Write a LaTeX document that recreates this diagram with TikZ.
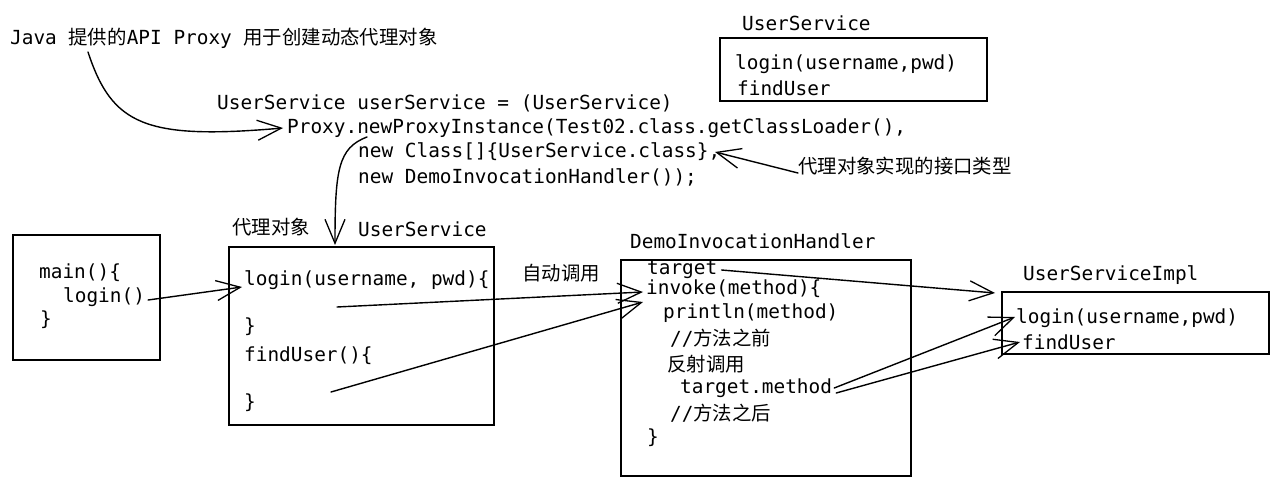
\documentclass[tikz,border=0pt]{standalone}
\usepackage{fontspec}
\usetikzlibrary{arrows.meta}
\newfontfamily\monof{DejaVu Sans Mono}
\newfontfamily\cjkf{Noto Sans CJK SC}
\newcommand\zh[1]{{\cjkf #1}}
\begin{document}
\begin{tikzpicture}[x=1pt,y=-1pt,
  txt/.style={font=\monof\fontsize{19.4pt}{24pt}\selectfont, inner sep=0pt, anchor=west},
  box/.style={draw, line width=1.6pt, anchor=north west, inner sep=0pt},
  arr/.style={line width=1.4pt, line cap=round, -{Straight Barb[length=24pt,width=20pt,line width=1.3pt]}},
  ]
\useasboundingbox (0,0) rectangle (1278,484);
\fill[white] (0,0) rectangle (1278,484);

% title and code
\node[txt] (title) at (10,38) {Java \zh{提供的}API Proxy \zh{用于创建动态代理对象}};
\node[txt] (c1) at (217,103) {UserService userService = (UserService)};
\node[txt] (c2) at (287,128) {Proxy.newProxyInstance(Test02.class.getClassLoader(),};
\node[txt] (c3) at (358,152) {new Class[]\{UserService.class\},};
\node[txt] (c4) at (358,177) {new DemoInvocationHandler());};

% interface box
\node[txt] (usLbl) at (742,23) {UserService};
\node[box, minimum width=267pt, minimum height=63pt] (usBox) at (719,37) {};
\node[txt] (usLogin) at (735,64) {login(username,pwd)};
\node[txt] (usFind) at (737,88) {findUser};
\node[txt] (ifNote) at (798,166) {\zh{代理对象实现的接口类型}};

% main box
\node[box, minimum width=147pt, minimum height=125pt] (mainBox) at (12,234) {};
\node[txt] (mMain) at (39,273) {main()\{};
\node[txt] (mLogin) at (63,297) {login()};
\node[txt] (mEnd) at (40,320) {\}};

% proxy box
\node[txt] (pxLbl) at (232,227) {\zh{代理对象}};
\node[txt] (pxName) at (358,229) {UserService};
\node[box, minimum width=265pt, minimum height=178pt] (pxBox) at (228,246) {};
\node[txt] (pLogin) at (244,280) {login(username, pwd)\{};
\node[txt] (pEnd1) at (244,327) {\}};
\node[txt] (pFind) at (244,356) {findUser()\{};
\node[txt] (pEnd2) at (244,403) {\}};

\node[txt] (auto) at (522,273) {\zh{自动调用}};

% handler box
\node[txt] (dLbl) at (630,241) {DemoInvocationHandler};
\node[box, minimum width=290pt, minimum height=216pt] (dBox) at (620,259) {};
\node[txt] (dTarget) at (647,270) {target};
\node[txt] (dInvoke) at (646,289) {invoke(method)\{};
\node[txt] (dPrint) at (663,313) {println(method)};
\node[txt] (dBefore) at (670,338) {//\zh{方法之前}};
\node[txt] (dReflect) at (667,364) {\zh{反射调用}};
\node[txt] (dMethod) at (680,388) {target.method};
\node[txt] (dAfter) at (670,413) {//\zh{方法之后}};
\node[txt] (dEnd) at (647,438) {\}};

% impl box
\node[txt] (iLbl) at (1023,275) {UserServiceImpl};
\node[box, minimum width=267pt, minimum height=62pt] (iBox) at (1001,291) {};
\node[txt] (iLogin) at (1016,318) {login(username,pwd)};
\node[txt] (iFind) at (1022,342) {findUser};

% free ends
\coordinate (tStart) at (88,52);
\coordinate (nStart) at (367,137);
\coordinate (pDown) at (335,245);
\coordinate (ifTip) at (715,152);
\coordinate (ifStart) at (798,173);
\coordinate (pA) at (337,307);
\coordinate (pB) at (331,392);

% connectors
\draw[arr] (tStart) .. controls (112,125) and (145,140) .. ([xshift=-4pt]c2.west);
\draw[arr] (nStart) .. controls (338,148) and (335,170) .. (pDown);
\draw[arr] (ifStart) -- (ifTip);
\draw[arr] ([xshift=3pt,yshift=-3pt]mLogin.east) -- ([xshift=-2pt,yshift=-7pt]pLogin.west);
\draw[arr] (pA) -- ([xshift=-3pt,yshift=-3pt]dInvoke.west);
\draw[arr] (pB) -- ([xshift=-3pt,yshift=-13pt]dInvoke.west);
\draw[arr] ([xshift=4pt]dTarget.east) -- ([xshift=-6pt,yshift=-2pt]iBox.north west);
\draw[arr] ([xshift=2pt]dMethod.east) -- ([xshift=-1pt,yshift=1pt]iLogin.west);
\draw[arr] ([xshift=4pt,yshift=-5pt]dMethod.east) -- ([xshift=-2pt]iFind.west);
\end{tikzpicture}
\end{document}
